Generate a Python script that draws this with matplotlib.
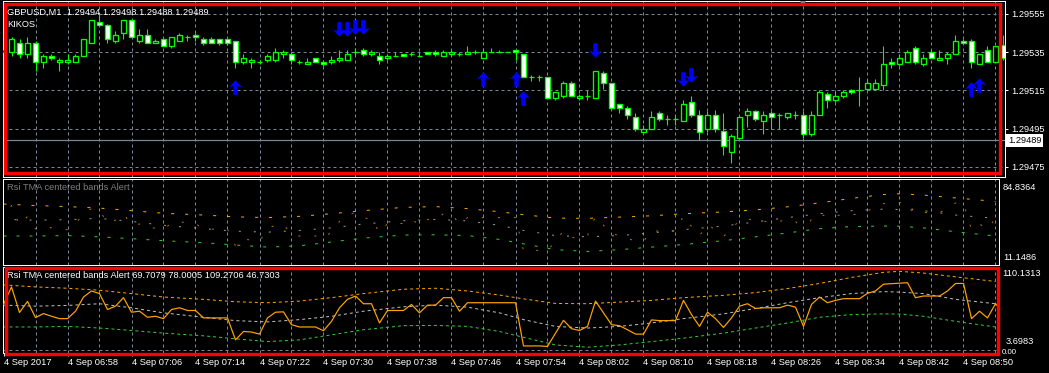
import matplotlib
matplotlib.use("Agg")
import matplotlib.pyplot as plt
from matplotlib.path import Path
from matplotlib.patches import Rectangle

plt.rcParams['font.family'] = ['Liberation Sans', 'DejaVu Sans']

# ---------------- data ----------------
opens = [1.29535, 1.29535, 1.29540, 1.29534, 1.29540, 1.29530, 1.29533, 1.29530, 1.29530, 1.29530,
         1.29533, 1.29540, 1.29551, 1.29549, 1.29541, 1.29545, 1.29552, 1.29541, 1.29544, 1.29540,
         1.29542, 1.29538, 1.29541, 1.29543, 1.29544, 1.29542, 1.29542, 1.29542, 1.29542, 1.29541,
         1.29530, 1.29530, 1.29530, 1.29531, 1.29531, 1.29534, 1.29534, 1.29530, 1.29529, 1.29532,
         1.29530, 1.29530, 1.29531, 1.29531, 1.29535, 1.29536, 1.29534, 1.29533, 1.29532, 1.29533,
         1.29534, 1.29534, 1.29533, 1.29535, 1.29535, 1.29533, 1.29534, 1.29534, 1.29534, 1.29535,
         1.29532, 1.29535, 1.29535, 1.29535, 1.29536, 1.29534, 1.29522, 1.29522, 1.29522, 1.29511,
         1.29512, 1.29519, 1.29511, 1.29512, 1.29511, 1.29524, 1.29519, 1.29508, 1.29506, 1.29501,
         1.29493, 1.29495, 1.29503, 1.29500, 1.29500, 1.29499, 1.29509, 1.29502, 1.29495, 1.29502,
         1.29494, 1.29483, 1.29490, 1.29502, 1.29504, 1.29499, 1.29503, 1.29502, 1.29501, 1.29502,
         1.29502, 1.29492, 1.29502, 1.29513, 1.29510, 1.29512, 1.29515, 1.29515, 1.29516, 1.29516,
         1.29518, 1.29530, 1.29529, 1.29530, 1.29537, 1.29529, 1.29535, 1.29531, 1.29532, 1.29534,
         1.29541, 1.29541, 1.29529, 1.29536, 1.29530, 1.29539]
highs = [1.29538, 1.29543, 1.29542, 1.29543, 1.29541, 1.29534, 1.29534, 1.29532, 1.29534, 1.29534,
         1.29542, 1.29552, 1.29555, 1.29550, 1.29546, 1.29552, 1.29552, 1.29547, 1.29547, 1.29542,
         1.29542, 1.29543, 1.29545, 1.29544, 1.29545, 1.29543, 1.29543, 1.29542, 1.29542, 1.29541,
         1.29534, 1.29532, 1.29531, 1.29534, 1.29537, 1.29536, 1.29535, 1.29531, 1.29532, 1.29532,
         1.29531, 1.29533, 1.29536, 1.29536, 1.29537, 1.29537, 1.29536, 1.29535, 1.29534, 1.29535,
         1.29534, 1.29535, 1.29535, 1.29535, 1.29536, 1.29536, 1.29536, 1.29535, 1.29538, 1.29536,
         1.29537, 1.29537, 1.29536, 1.29535, 1.29536, 1.29534, 1.29523, 1.29523, 1.29522, 1.29514,
         1.29520, 1.29520, 1.29513, 1.29515, 1.29525, 1.29525, 1.29519, 1.29508, 1.29507, 1.29503,
         1.29497, 1.29504, 1.29504, 1.29502, 1.29502, 1.29510, 1.29512, 1.29505, 1.29504, 1.29505,
         1.29503, 1.29492, 1.29501, 1.29506, 1.29505, 1.29504, 1.29504, 1.29503, 1.29503, 1.29504,
         1.29504, 1.29504, 1.29515, 1.29514, 1.29514, 1.29515, 1.29516, 1.29522, 1.29521, 1.29521,
         1.29538, 1.29532, 1.29534, 1.29536, 1.29538, 1.29534, 1.29536, 1.29536, 1.29535, 1.29544,
         1.29542, 1.29542, 1.29534, 1.29538, 1.29538, 1.29544]
lows = [1.29532, 1.29533, 1.29532, 1.29532, 1.29525, 1.29527, 1.29531, 1.29525, 1.29529, 1.29530,
        1.29533, 1.29540, 1.29549, 1.29540, 1.29540, 1.29542, 1.29543, 1.29540, 1.29540, 1.29540,
        1.29538, 1.29537, 1.29541, 1.29541, 1.29541, 1.29539, 1.29540, 1.29539, 1.29539, 1.29527,
        1.29529, 1.29527, 1.29529, 1.29530, 1.29530, 1.29532, 1.29529, 1.29529, 1.29529, 1.29530,
        1.29528, 1.29529, 1.29530, 1.29531, 1.29533, 1.29533, 1.29533, 1.29529, 1.29531, 1.29533,
        1.29533, 1.29533, 1.29533, 1.29534, 1.29533, 1.29533, 1.29533, 1.29533, 1.29534, 1.29534,
        1.29532, 1.29535, 1.29535, 1.29535, 1.29531, 1.29522, 1.29520, 1.29520, 1.29511, 1.29510,
        1.29511, 1.29512, 1.29510, 1.29510, 1.29511, 1.29516, 1.29506, 1.29503, 1.29500, 1.29494,
        1.29493, 1.29495, 1.29499, 1.29497, 1.29497, 1.29499, 1.29501, 1.29489, 1.29493, 1.29493,
        1.29481, 1.29477, 1.29490, 1.29496, 1.29499, 1.29492, 1.29495, 1.29495, 1.29500, 1.29500,
        1.29490, 1.29491, 1.29502, 1.29506, 1.29509, 1.29511, 1.29513, 1.29507, 1.29515, 1.29515,
        1.29515, 1.29527, 1.29528, 1.29530, 1.29529, 1.29528, 1.29532, 1.29531, 1.29529, 1.29534,
        1.29540, 1.29527, 1.29529, 1.29530, 1.29530, 1.29531]
closes = [1.29536, 1.29542, 1.29534, 1.29540, 1.29530, 1.29533, 1.29532, 1.29531, 1.29531, 1.29533,
          1.29542, 1.29552, 1.29549, 1.29542, 1.29544, 1.29552, 1.29543, 1.29544, 1.29540, 1.29541,
          1.29538, 1.29543, 1.29544, 1.29543, 1.29543, 1.29540, 1.29540, 1.29540, 1.29540, 1.29530,
          1.29532, 1.29531, 1.29530, 1.29533, 1.29535, 1.29535, 1.29531, 1.29530, 1.29530, 1.29530,
          1.29529, 1.29531, 1.29532, 1.29534, 1.29535, 1.29534, 1.29535, 1.29531, 1.29533, 1.29533,
          1.29533, 1.29534, 1.29533, 1.29534, 1.29534, 1.29535, 1.29535, 1.29534, 1.29535, 1.29535,
          1.29535, 1.29535, 1.29535, 1.29535, 1.29535, 1.29522, 1.29522, 1.29522, 1.29511, 1.29514,
          1.29519, 1.29512, 1.29512, 1.29512, 1.29525, 1.29519, 1.29506, 1.29506, 1.29502, 1.29495,
          1.29495, 1.29501, 1.29500, 1.29500, 1.29500, 1.29508, 1.29502, 1.29493, 1.29502, 1.29495,
          1.29486, 1.29491, 1.29501, 1.29504, 1.29500, 1.29502, 1.29501, 1.29502, 1.29503, 1.29502,
          1.29492, 1.29502, 1.29514, 1.29510, 1.29512, 1.29514, 1.29514, 1.29515, 1.29519, 1.29519,
          1.29529, 1.29529, 1.29532, 1.29535, 1.29530, 1.29532, 1.29532, 1.29532, 1.29534, 1.29541,
          1.29540, 1.29530, 1.29534, 1.29530, 1.29538, 1.29532]

up_arrow_bar = [29, 60, 64, 65, 121, 122]
up_arrow_price = [1.29517, 1.29521, 1.29521, 1.29511, 1.29516, 1.29518]
down_arrow_bar = [42, 43, 44, 45, 74, 85, 86]
down_arrow_price = [1.29547, 1.29547, 1.29548, 1.29548, 1.29536, 1.29521, 1.29523]

current_price = 1.29489
price_ticks = [1.29475, 1.29495, 1.29515, 1.29535, 1.29555]

rsi = [63.7, 88.3, 52.4, 68.0, 45.3, 50.9, 47.1, 43.8, 43.8, 54.2,
       74.1, 82.6, 78.9, 56.6, 61.3, 73.2, 52.8, 54.2, 45.7, 47.1,
       43.8, 56.6, 59.0, 55.2, 55.2, 44.8, 44.8, 44.8, 44.8, 14.0,
       25.8, 25.0, 22.1, 44.8, 52.8, 53.3, 35.3, 32.1, 32.1, 32.1,
       26.8, 40.0, 59.0, 70.8, 75.5, 64.7, 64.7, 37.7, 55.2, 55.2,
       55.2, 63.7, 51.9, 62.7, 62.7, 73.2, 73.2, 54.2, 66.1, 66.1,
       66.1, 66.1, 66.1, 66.1, 66.1, 5.5, 5.5, 5.5, 4.8, 23.5,
       41.4, 29.7, 27.2, 32.9, 68.4, 51.9, 35.3, 33.9, 28.2, 22.1,
       22.1, 42.0, 41.0, 41.0, 41.0, 69.4, 49.5, 32.9, 52.8, 43.8,
       31.5, 44.8, 61.3, 64.7, 58.0, 59.0, 59.0, 59.0, 62.7, 59.9,
       32.9, 63.7, 74.1, 66.1, 69.4, 71.8, 71.8, 71.8, 79.3, 82.6,
       92.1, 92.8, 93.5, 94.2, 73.2, 75.5, 75.5, 75.5, 82.6, 93.1,
       93.1, 43.8, 54.2, 44.8, 64.7, 51.9]

band_bar = [0, 4, 8, 12, 16, 20, 25, 29, 33, 37, 41, 45, 50, 54, 58, 62, 65, 69, 73, 77,
            81, 85, 90, 94, 98, 102, 106, 110, 112, 115, 119, 124]
band_upper = [91.1, 88.3, 86.4, 83.6, 78.9, 74.1, 70.8, 67.5, 66.1, 68.4, 73.2, 78.9, 85.0, 86.4,
              82.6, 76.9, 71.5, 65.1, 64.7, 67.0, 69.4, 73.2, 76.5, 80.3, 86.0, 93.1, 101.6,
              108.7, 110.1, 107.7, 102.4, 95.9]
band_middle = [62.7, 61.3, 62.3, 64.7, 59.0, 51.9, 45.7, 41.0, 39.2, 42.4, 47.1, 54.2, 60.4, 62.7,
               59.9, 51.9, 42.4, 32.9, 30.6, 32.9, 37.7, 43.8, 50.5, 58.0, 66.1, 73.2, 78.9,
               81.7, 81.0, 78.9, 70.8, 64.7]
band_lower = [32.1, 32.1, 32.9, 30.6, 27.2, 23.5, 19.7, 15.5, 11.6, 14.0, 21.1, 28.2, 33.9, 34.3,
              32.9, 25.8, 17.6, 6.9, 3.7, 6.9, 11.6, 16.4, 23.5, 30.6, 37.7, 45.7, 49.5,
              50.5, 50.2, 47.1, 40.0, 32.1]

time_tick_bar = [0, 8, 16, 24, 32, 40, 48, 56, 64, 72, 80, 88, 96, 104, 112, 120]
time_tick_labels = ["4 Sep 2017", "4 Sep 06:58", "4 Sep 07:06", "4 Sep 07:14", "4 Sep 07:22",
                    "4 Sep 07:30", "4 Sep 07:38", "4 Sep 07:46", "4 Sep 07:54", "4 Sep 08:02",
                    "4 Sep 08:10", "4 Sep 08:18", "4 Sep 08:26", "4 Sep 08:34", "4 Sep 08:42",
                    "4 Sep 08:50"]

# ---------------- layout helpers ----------------
W, H = 1049, 373
FS = 6.7
LIME = '#00ff00'
GRID = '#778899'
ORANGE = '#ffa500'
SILVER = '#c0c0c0'
GREEN = '#32cd32'
PX = 0.72  # one pixel in points at dpi 100


def fx(px):
    return px / W


def fy(py):
    return 1 - py / H


def add_axes(x0, x1, y0, y1):
    return fig.add_axes([fx(x0), fy(y1), (x1 - x0) / W, (y1 - y0) / H])


def bar_lim(x0, x1):
    return ((x0 - 3.5) / 8.0, (x1 - 3.5) / 8.0)


fig = plt.figure(figsize=(W / 100, H / 100), dpi=100, facecolor='black')

ax_top = add_axes(3, 1005, 1, 177)
ax_mid = add_axes(3, 999, 179, 265)
ax_bot = add_axes(3, 999, 267, 353)

for ax in (ax_top, ax_mid, ax_bot):
    ax.set_facecolor('black')
    for s in ax.spines.values():
        s.set_color('white')
        s.set_linewidth(PX)
    ax.tick_params(colors='white', labelsize=FS, width=PX)

ax_top.set_xlim(*bar_lim(3, 1005))
ax_mid.set_xlim(*bar_lim(3, 999))
ax_bot.set_xlim(*bar_lim(3, 999))

vgrid = list(range(4, 128, 4))
for ax in (ax_top, ax_mid, ax_bot):
    for g in vgrid:
        ax.axvline(g, color=GRID, lw=PX, ls=(0, (3, 3)), zorder=0)

# ---------------- top: candles ----------------
ax_top.set_ylim(1.294697, 1.295618)
for p in price_ticks:
    ax_top.axhline(p, color=GRID, lw=PX, ls=(0, (3, 3)), zorder=0)

n = len(opens)
xs = list(range(n))
ax_top.vlines(xs, lows, highs, color=LIME, lw=PX * 1.1, zorder=2)
bull = [i for i in xs if closes[i] >= opens[i]]
bear = [i for i in xs if closes[i] < opens[i]]
ax_top.bar(bull, [closes[i] - opens[i] for i in bull], bottom=[opens[i] for i in bull],
           width=0.56, color='black', edgecolor=LIME, linewidth=PX * 1.3, zorder=3)
ax_top.bar(bear, [opens[i] - closes[i] for i in bear], bottom=[closes[i] for i in bear],
           width=0.56, color='white', edgecolor=LIME, linewidth=PX * 1.3, zorder=3)

ax_top.axhline(current_price, color=GRID, lw=PX * 1.2, zorder=1)

up_path = Path([(0, 0.5), (0.44, 0.02), (0.15, 0.1), (0.15, -0.5), (-0.15, -0.5),
                (-0.15, 0.1), (-0.44, 0.02), (0, 0.5)], closed=True)
dn_path = Path([(x, -y) for x, y in up_path.vertices], closed=True)
ax_top.plot(up_arrow_bar, up_arrow_price, ls='none', marker=up_path, ms=10.5,
            color='#0000ff', mew=0, zorder=4)
ax_top.plot(down_arrow_bar, down_arrow_price, ls='none', marker=dn_path, ms=10.5,
            color='#0000ff', mew=0, zorder=4)

ax_top.plot([100], [0.985], transform=ax_top.get_xaxis_transform(), marker='v', ms=4,
            color=GRID, mew=0, clip_on=False, zorder=5)

ax_top.set_xticks([])
ax_top.yaxis.tick_right()
ax_top.set_yticks(price_ticks)
ax_top.set_yticklabels(['%.5f' % p for p in price_ticks])
ax_top.tick_params(axis='y', length=2.2, pad=2.5)

fig.text(fx(7), fy(12), 'GBPUSD,M1  1.29494 1.29498 1.29488 1.29489',
         color='white', fontsize=FS, va='center', ha='left')
fig.text(fx(7), fy(24.5), 'KIKOS', color='white', fontsize=FS, va='center', ha='left')
fig.text(fx(1008), fy(140.5), '%.5f' % current_price, color='black', fontsize=FS, va='center',
         ha='left', bbox=dict(facecolor='white', edgecolor='none', pad=1.2))

# ---------------- middle: broken indicator window ----------------
ax_mid.set_ylim(-21.4, 137.3)
ax_mid.plot(band_bar, band_upper, color=ORANGE, lw=PX, ls=(0, (3, 11)))
ax_mid.plot(band_bar, band_middle, color=SILVER, lw=PX, ls=(4, (2, 13)), alpha=0.8)
ax_mid.plot(band_bar, band_lower, color=GREEN, lw=PX, ls=(0, (3, 10)))
ax_mid.plot(xs, rsi, color=ORANGE, lw=PX, ls=(2, (2, 14)), alpha=0.7)
ax_mid.set_xticks([])
ax_mid.set_yticks([])
ax_mid.text(0.004, 0.95, 'Rsi TMA centered bands Alert', transform=ax_mid.transAxes,
            color='#d0d0d0', fontsize=FS, va='top', ha='left', alpha=0.6)
fig.text(fx(1003), fy(187), '84.8364', color='white', fontsize=FS, va='center', ha='left')
fig.text(fx(1003), fy(258), '11.1486', color='white', fontsize=FS, va='center', ha='left')

# ---------------- bottom: RSI TMA bands ----------------
ax_bot.set_ylim(-4.4, 116.2)
ax_bot.axhline(0, color=GRID, lw=PX, ls=(0, (3, 3)), zorder=0)
ax_bot.plot(band_bar, band_upper, color=ORANGE, lw=PX, ls=(0, (3, 3)), zorder=2)
ax_bot.plot(band_bar, band_middle, color=SILVER, lw=PX, ls=(0, (3, 3)), zorder=2)
ax_bot.plot(band_bar, band_lower, color=GREEN, lw=PX, ls=(0, (3, 3)), zorder=2)
ax_bot.plot(xs, rsi, color=ORANGE, lw=PX * 1.2, zorder=3)
ax_bot.set_yticks([])
ax_bot.set_xticks(time_tick_bar)
ax_bot.set_xticklabels(time_tick_labels, ha='left')
ax_bot.tick_params(axis='x', length=2, pad=1.5)
ax_bot.text(0.004, 0.95, 'Rsi TMA centered bands Alert 69.7079 78.0005 109.2706 46.7303',
            transform=ax_bot.transAxes, color='white', fontsize=FS, va='top', ha='left')
fig.text(fx(1002), fy(274), '110.1313', color='white', fontsize=FS, va='center', ha='left')
fig.text(fx(1006), fy(342), '3.6983', color='white', fontsize=FS, va='center', ha='left')
fig.text(fx(1002), fy(352.5), '0.00', color='white', fontsize=FS * 0.85, va='center', ha='left')

# ---------------- red highlight frames ----------------
fig.patches.append(Rectangle((fx(5), fy(173.3)), fx(1000) - fx(5), fy(3.8) - fy(173.3),
                             transform=fig.transFigure, fill=False, edgecolor='#ff0000',
                             linewidth=2.4, zorder=10))
fig.patches.append(Rectangle((fx(5.8), fy(353.7)), fx(997.5) - fx(5.8), fy(267.8) - fy(353.7),
                             transform=fig.transFigure, fill=False, edgecolor='#ff0000',
                             linewidth=2.4, zorder=10))

fig.savefig('out.png', dpi=100, facecolor='black')
